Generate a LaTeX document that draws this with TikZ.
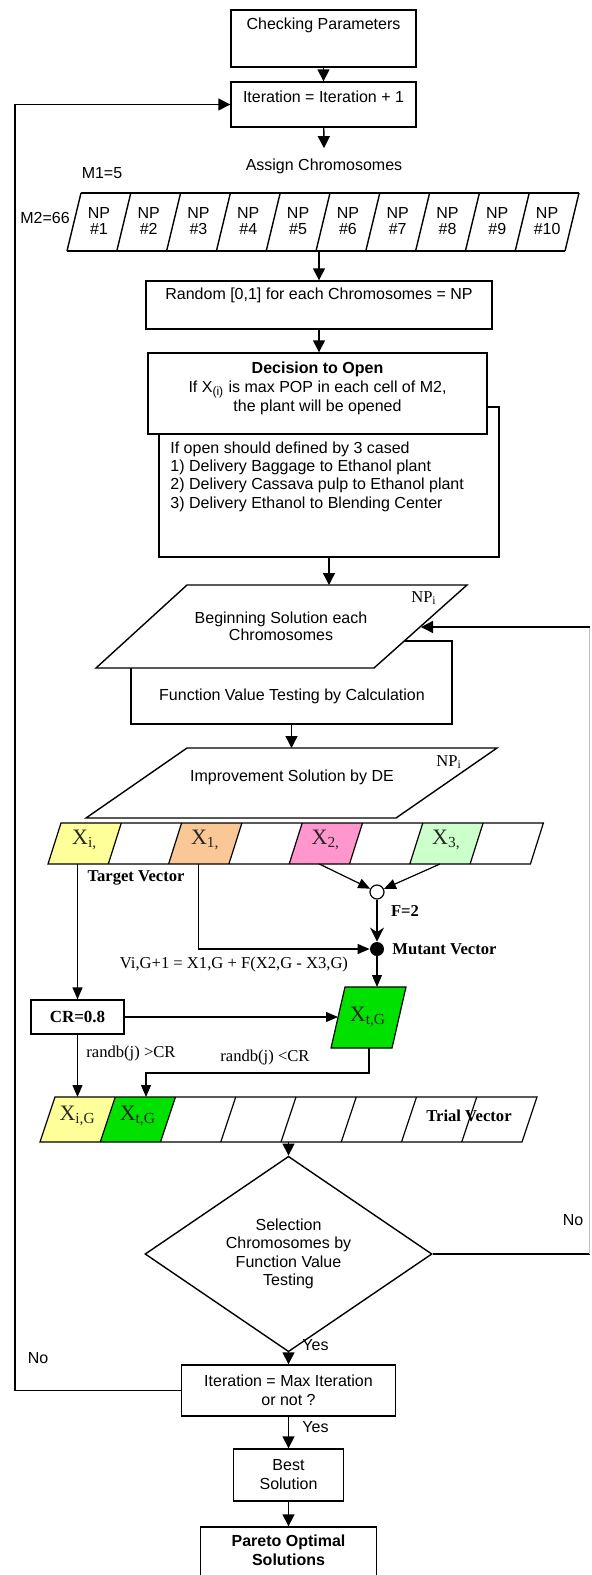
\documentclass[tikz,border=0pt]{standalone}
\usepackage{fontspec}
\setmainfont{Liberation Sans}
\newfontfamily\serifX{Liberation Serif}
\usetikzlibrary{arrows.meta,shapes.geometric,positioning}
\definecolor{cellY}{RGB}{255,255,153}
\definecolor{cellO}{RGB}{250,200,150}
\definecolor{cellP}{RGB}{255,150,205}
\definecolor{cellG}{RGB}{204,255,204}
\definecolor{cellT}{RGB}{0,225,0}
\tikzset{
  box/.style={
    shape = rectangle,
    draw,
    fill = white,
    line width = 0.7pt,
    inner sep = 0pt
  },
}
\tikzset{
  arr/.style={line width=0.7pt, -{Triangle[length=6pt,width=6pt]}},
  arrS/.style={line width=0.6pt, -{Triangle[length=6pt,width=5pt]}},
  arrF/.style={line width=0.6pt, -{Stealth[length=7pt,width=7pt]}},
  lin/.style={line width=0.7pt},
  cell/.style={draw, line width=0.6pt},
  txt/.style={font=\fontsize{8}{9.2}\selectfont, align=center, inner sep=0pt},
  txtB/.style={font=\fontsize{8}{9.2}\selectfont\bfseries, align=center, inner sep=0pt},
  nptxt/.style={font=\fontsize{8}{8}\selectfont, align=center, inner sep=0pt},
  sertxt/.style={font=\serifX\fontsize{8.3}{10}\selectfont, inner sep=0pt},
  sertxtB/.style={font=\serifX\fontsize{8.3}{10}\selectfont\bfseries, inner sep=0pt},
  xlab/.style={font=\serifX\fontsize{11}{12}\selectfont, inner sep=0pt, text=black!85},
}
\begin{document}
\begin{tikzpicture}[x=0.5pt, y=-0.5pt]
    \useasboundingbox (0,0) rectangle (591,1575);
    \clip (0,0) rectangle (591,1575);

    \node[box, minimum width=92.5pt, minimum height=28.5pt] (chk) at (323.5,38.5) {};
    \node[txt] (chkT) at (323.5,25) {Checking Parameters};
    \node[box, minimum width=92.5pt, minimum height=22.5pt] (iter) at (323.5,104.5) {};
    \node[txt] (iterT) at (323.5,97) {Iteration = Iteration + 1};
    \draw[arr] (chk) -- (iter);
    \node[txt] (assign) at (324,166) {Assign Chromosomes};
    \draw[arr] (iter) -- ([yshift=5pt]assign.north);

    \node[txt] (m1) at (102,173) {M1=5};
    \node[txt] (m2) at (45,218) {M2=66};

    \def\npw{49.8}
    \draw[lin] (81,193) -- (579,193);
    \draw[lin] (67,251) -- (565,251);
    \foreach \i in {0,...,10}{
        \draw[lin] (67+\i*\npw,251) --++ (14,-58);
    }
    \foreach \n in {1,...,10}{
        \node[nptxt] (np\n) at (49.1+\n*\npw,221) {NP\\\#\n};
    }
    \coordinate (npB) at (319,251);

    \node[box, minimum width=173pt, minimum height=24pt] (rand) at (319,305) {};
    \node[txt] (randT) at (319,295) {Random [0,1] for each Chromosomes = NP};
    \draw[arr] (npB) -- (rand.north);

    \node[box, minimum width=170pt, minimum height=75pt] (cases) at (329,482) {};
    \node[txt, align=left, anchor=north west] (casesT) at (170,441)
        {If open should defined by 3 cased\\
         1) Delivery Baggage to Ethanol plant\\
         2) Delivery Cassava pulp to Ethanol plant\\
         3) Delivery Ethanol to Blending Center};
    \node[box, minimum width=169.5pt, minimum height=40.5pt] (dec) at (317.5,393.5) {};
    \node[txt, font=\fontsize{8}{9.5}\selectfont] (decT) at (317.5,388)
        {\textbf{Decision to Open}\\If X\textsubscript{(i)} is max POP in each cell of M2,\\the plant will be opened};
    \draw[arr] (rand.south) -- (rand.south |- dec.north);

    \coordinate (begN) at (329,585);
    \draw[arr] (cases.south) -- (begN);
    \node[box, minimum width=160.5pt, minimum height=41.5pt] (fval) at (291.5,682.5) {};
    \node[txt] (fvalT) at (292,696) {Function Value Testing by Calculation};
    \draw[lin, fill=white] (187,585) -- (467,585) -- (374,668) -- (96,668) -- cycle;
    \node[txt, font=\fontsize{8}{8.6}\selectfont] (begT) at (281,626) {Beginning Solution each\\Chromosomes};
    \node[sertxt] (npiA) at (424,598) {NP\textsubscript{i}};

    \coordinate (impN) at (291.5,748);
    \draw[arr] (fval.south) -- (impN);
    \draw[lin, fill=white] (187,748) -- (497,748) -- (396,818) -- (86,818) -- cycle;
    \node[txt] (impT) at (292,777) {Improvement Solution by DE};
    \node[sertxt] (npiB) at (449,762) {NP\textsubscript{i}};

    % target vector
    \def\tvw{60.3}
    \foreach \i/\c in {0/cellY,2/cellO,4/cellP,6/cellG}{
        \fill[\c] (48+\i*\tvw,864) --++ (13,-41) --++ (\tvw,0) --++ (-13,41) -- cycle;
    }
    \draw[cell] (48,864) --++ (13,-41) --++ (482.4,0) --++ (-13,41) -- cycle;
    \foreach \i in {1,...,7}{
        \draw[cell] (48+\i*\tvw,864) --++ (13,-41);
    }
    \foreach \i/\s/\nm in {0/i/xi,2/1/xa,4/2/xb,6/3/xc}{
        \node[xlab] (\nm) at (84.65+\i*\tvw,840) {X\textsubscript{\s,}};
    }
    \foreach \i in {2,4,6}{
        \coordinate (tv\i) at (78.15+\i*\tvw,864);
    }
    \coordinate (tv0) at (77.5,864);
    \node[sertxtB] (tgt) at (136,878) {Target Vector};

    \node[circle, draw, fill=white, line width=0.6pt, minimum size=7pt, inner sep=0pt] (plus) at (377,892) {};
    \node[circle, fill, minimum size=7pt, inner sep=0pt] (mut) at (377,949) {};
    \draw[arrS] (tv4) -- (plus);
    \draw[arrS] (tv6) -- (plus);
    \draw[arrF] (plus) -- (mut);
    \node[sertxtB] (fTwo) at (405,911) {F=2};
    \draw[arrS] (tv2) |- (mut);
    \node[sertxtB, anchor=west] (mutT) at (392,949) {Mutant Vector};
    \node[sertxt] (form) at (234,964) {Vi,G+1 = X1,G + F(X2,G - X3,G)};

    \draw[cell, fill=cellT] (345,987) -- (406,987) -- (392,1048) -- (331,1048) -- cycle;
    \node[xlab] (xtT) at (368,1017) {X\textsubscript{t,G}};
    \coordinate (xtN) at (377,987);
    \coordinate (xtW) at (338,1017);
    \coordinate (xtS) at (369,1048);
    \draw[arrS] (mut) -- (xtN);

    \node[box, line width=0.6pt, minimum width=46.5pt, minimum height=17pt, font=\serifX\fontsize{8.5}{10}\selectfont\bfseries] (cr) at (77.5,1017) {CR=0.8};
    \draw[arrS] (tv0) -- (cr.north);
    \draw[arrS] (cr.east) -- (xtW);

    % trial vector
    \def\trw{60.25}
    \fill[cellY] (40,1142) --++ (15,-45) --++ (\trw,0) --++ (-15,45) -- cycle;
    \fill[cellT] (40+\trw,1142) --++ (15,-45) --++ (\trw,0) --++ (-15,45) -- cycle;
    \draw[cell] (40,1142) --++ (15,-45) --++ (482,0) --++ (-15,45) -- cycle;
    \foreach \i in {1,...,7}{
        \draw[cell] (40+\i*\trw,1142) --++ (15,-45);
    }
    \node[xlab] (xiG) at (77.6,1116) {X\textsubscript{i,G}};
    \node[xlab] (xtG) at (137.85,1116) {X\textsubscript{t,G}};
    \node[sertxtB] (trialT) at (469,1116) {Trial Vector};
    \coordinate (tr0) at (77.5,1097);
    \coordinate (tr1) at (146,1097);
    \coordinate (bend) at (369,1073);
    \draw[arrS] (cr.south) -- (tr0);
    \draw[arrS] (xtS) -- (bend) -| (tr1);
    \node[sertxt, anchor=west] (gtT) at (86,1053) {randb(j) >CR};
    \node[sertxt, anchor=west] (ltT) at (220,1057) {randb(j) <CR};

    % selection and end
    \coordinate (trB) at (288.5,1142);
    \node[diamond, draw, txt, line width=0.7pt, minimum width=143.5pt, minimum height=81.5pt] (sel) at (288.5,1254)
        {Selection\\Chromosomes by\\Function Value\\Testing};
    \draw[arr] (trB) -- (sel.north);
    \coordinate (rgt) at (589.5,1254);
    \coordinate (rgtT) at (589.5,627);
    \coordinate (begE) at (421,627);
    \draw[lin] (sel.east) -- (rgt);
    \draw[lin, black!25] (rgt) -- (rgtT);
    \draw[arr] (rgtT) -- (begE);
    \node[txt] (noA) at (573,1220) {No};

    \node[box, txt, font=\fontsize{8}{9.5}\selectfont, minimum width=107pt, minimum height=25.5pt] (maxit) at (288.5,1390.5) {Iteration = Max Iteration\\or not ?};
    \draw[arr] (sel.south) -- (maxit.north);
    \node[txt, anchor=west] (yesA) at (302,1345) {Yes};
    \coordinate (lft) at (15,1390.5);
    \draw[arr] (maxit.west) -- (lft) |- (iter.west);
    \node[txt] (noB) at (38,1358) {No};

    \node[box, txt, font=\fontsize{8}{9.5}\selectfont, minimum width=55pt, minimum height=26pt] (best) at (288.5,1475) {Best\\Solution};
    \draw[arr] (maxit) -- (best);
    \node[txt, anchor=west] (yesB) at (302,1427) {Yes};

    \node[box, minimum width=88pt, minimum height=32pt] (par) at (288.5,1559) {};
    \node[txtB, font=\fontsize{8}{9.5}\selectfont\bfseries] (parT) at (288.5,1550.5) {Pareto Optimal\\Solutions};
    \draw[arr] (best) -- (par);
\end{tikzpicture}
\end{document}
